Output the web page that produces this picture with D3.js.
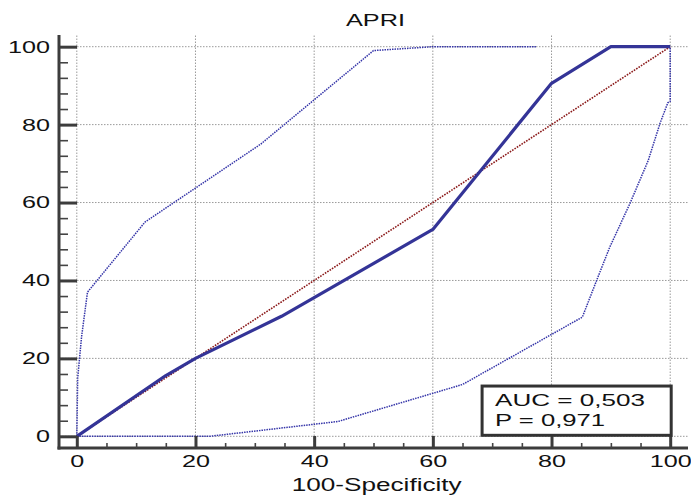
<!DOCTYPE html>
<html><head><meta charset="utf-8">
<script src="https://cdn.jsdelivr.net/npm/d3@7/dist/d3.min.js"></script>
<style>
html,body{margin:0;padding:0;background:#fff;}
svg{display:block;font-family:"Liberation Sans",Arial,sans-serif;}
</style></head>
<body>
<svg id="c" width="691" height="496"></svg>
<script>
// ---- data ----
const title = "APRI";
const xLabel = "100-Specificity";
const xTicks = [0, 20, 40, 60, 80, 100];
const yTicks = [0, 20, 40, 60, 80, 100];
const xMinor = d3.range(0, 101, 5);
const yMinor = d3.range(0, 101, 4);
// ROC curve
const rocX = [0, 15, 20, 34.5, 60, 80, 90, 100];
const rocY = [0, 15.6, 20, 30.8, 53.1, 90.6, 100, 100];
// upper confidence bound
const upX = [0, 0.15, 0.8, 1.8, 11.5, 31, 50, 60, 77.5];
const upY = [0, 15, 25.5, 37, 55, 75, 99, 100, 100];
// lower confidence bound
const loX = [0, 22.4, 44, 65, 85.2, 87.6, 89.8, 93.2, 96.3, 98.3, 99.6, 100, 100];
const loY = [0, 0, 3.8, 13.3, 30.6, 40, 48.5, 59.7, 70.8, 80.4, 85.6, 86, 100];
// reference diagonal
const diagX = [0, 100];
const diagY = [0, 100];
const aucText = ["AUC = 0,503", "P = 0,971"];

// ---- drawing ----
const svg = d3.select("#c");
const x = d3.scaleLinear().domain([-3, 103]).range([59, 688]);
const y = d3.scaleLinear().domain([-3, 103]).range([448, 35]);
const line = d3.line().x(d => x(d[0])).y(d => y(d[1]));
const zip = (a, b) => a.map((v, i) => [v, b[i]]);

// grid
const grid = svg.append("g").attr("stroke", "#9a9a9a").attr("stroke-width", 1)
  .attr("stroke-dasharray", "1.5,1.5").attr("fill", "none");
xTicks.forEach(t => grid.append("line").attr("x1", x(t)).attr("x2", x(t))
  .attr("y1", y(-3)).attr("y2", y(103)));
yTicks.forEach(t => grid.append("line").attr("y1", y(t)).attr("y2", y(t))
  .attr("x1", x(-3)).attr("x2", x(103)));

// diagonal
svg.append("path").attr("d", line(zip(diagX, diagY))).attr("fill", "none")
  .attr("stroke", "#8b1a1a").attr("stroke-width", 1.6).attr("stroke-dasharray", "1.6,1.2");

// CI curves
[[upX, upY], [loX, loY]].forEach(([a, b]) => {
  svg.append("path").attr("d", line(zip(a, b))).attr("fill", "none")
    .attr("stroke", "#3434a8").attr("stroke-width", 1.5).attr("stroke-dasharray", "1.5,1");
});

// ROC
svg.append("path").attr("d", line(zip(rocX, rocY))).attr("fill", "none")
  .attr("stroke", "#343497").attr("stroke-width", 3.2).attr("stroke-linejoin", "round");

// axes
const fmtLen = sel => sel.selectAll("text")
  .attr("font-size", 17).attr("fill", "#111")
  .attr("textLength", d => String(d).length * 14)
  .attr("lengthAdjust", "spacingAndGlyphs");

const yAxis = svg.append("g").attr("transform", `translate(${x(-3)},0)`)
  .call(d3.axisLeft(y).tickValues(yTicks).tickSizeInner(-18).tickSizeOuter(0).tickPadding(9))
  .call(fmtLen);
svg.append("g").attr("transform", `translate(${x(-3)},0)`)
  .call(d3.axisLeft(y).tickValues(yMinor.filter(v => !yTicks.includes(v))).tickSizeInner(-9).tickSizeOuter(0).tickFormat(""))
  .call(g => g.select(".domain").remove())
  .call(g => g.selectAll("line").attr("stroke", "#444").attr("stroke-width", 1.6));

const xAxis = svg.append("g").attr("transform", `translate(0,${y(-3)})`)
  .call(d3.axisBottom(x).tickValues(xTicks).tickSizeInner(-12).tickSizeOuter(0).tickPadding(7))
  .call(fmtLen);
svg.append("g").attr("transform", `translate(0,${y(-3)})`)
  .call(d3.axisBottom(x).tickValues(xMinor.filter(v => !xTicks.includes(v))).tickSizeInner(-5).tickSizeOuter(0).tickFormat(""))
  .call(g => g.select(".domain").remove())
  .call(g => g.selectAll("line").attr("stroke", "#444").attr("stroke-width", 1.6));

[yAxis, xAxis].forEach(g => {
  g.select(".domain").attr("stroke", "#3c3c3c").attr("stroke-width", 3);
  g.selectAll(".tick line").attr("stroke", "#3c3c3c").attr("stroke-width", 3);
});
yAxis.select(".domain").attr("d", `M0,${y(-3) + 1.5}V${y(103)}`);
xAxis.select(".domain").attr("d", `M${x(-3) - 1.5},0H${x(103)}`);

// AUC box
const bx = x(68.3), bw = x(100) - x(68.3) + 1, by = y(12.9), bh = y(0) - y(12.9) - 1;
svg.append("rect").attr("x", bx).attr("y", by).attr("width", bw).attr("height", bh)
  .attr("fill", "#fff").attr("stroke", "#333").attr("stroke-width", 3);
const boxLens = [150, 110];
aucText.forEach((t, i) => svg.append("text").attr("x", bx + 13).attr("y", by + 20 + i * 20)
  .attr("font-size", 17).attr("fill", "#111").attr("textLength", boxLens[i])
  .attr("lengthAdjust", "spacingAndGlyphs").text(t));

// title and axis label
svg.append("text").attr("x", 375.5).attr("y", 26).attr("text-anchor", "middle")
  .attr("font-size", 17).attr("fill", "#111").attr("textLength", 59)
  .attr("lengthAdjust", "spacingAndGlyphs").text(title);
svg.append("text").attr("x", 376.7).attr("y", 491).attr("text-anchor", "middle")
  .attr("font-size", 17.5).attr("fill", "#111").attr("textLength", 170)
  .attr("lengthAdjust", "spacingAndGlyphs").text(xLabel);
</script>
</body></html>
